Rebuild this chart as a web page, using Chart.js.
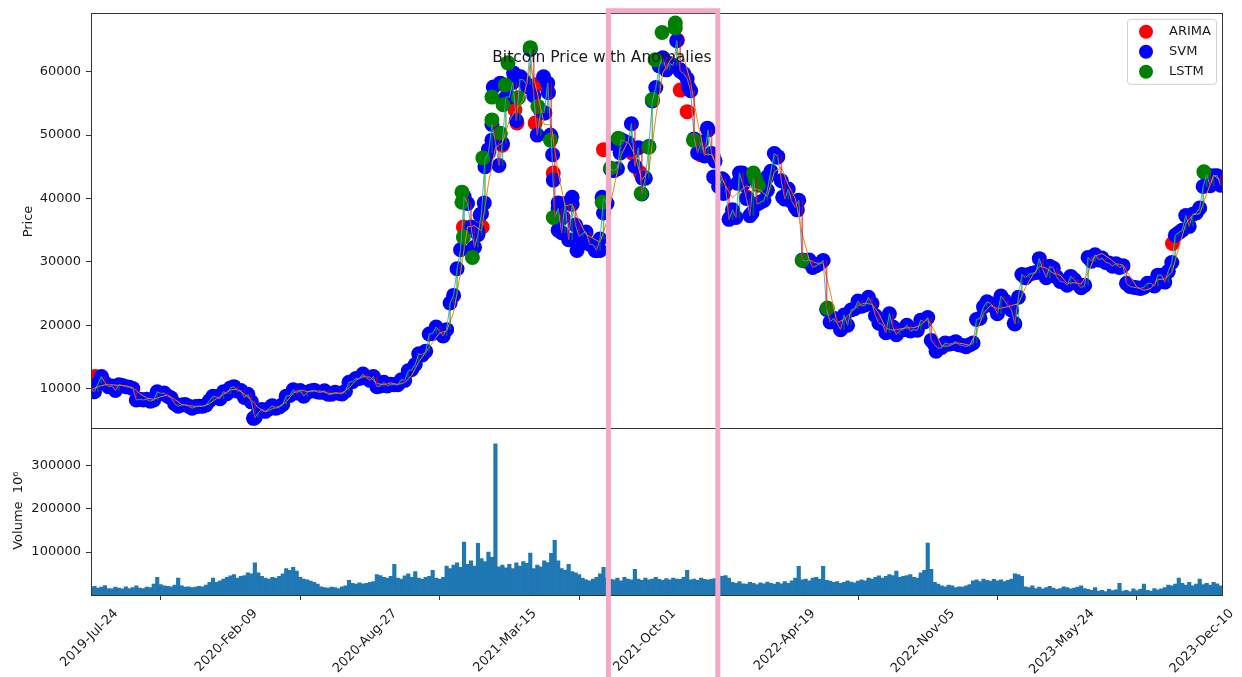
<!DOCTYPE html>
<html>
<head>
<meta charset="utf-8">
<script src="https://cdn.jsdelivr.net/npm/chart.js@4.4.1/dist/chart.umd.min.js"></script>
<style>
  html, body { margin: 0; padding: 0; background: #ffffff; }
  #wrap { position: relative; width: 1242px; height: 677px; }
  canvas { display: block; }
</style>
</head>
<body>
<div id="wrap"><canvas id="chart" width="1242" height="677"></canvas></div>
<script>
// ---- axis ticks (day offsets from 2019-07-24) ----
const xTickDays = [0, 200, 400, 600, 800, 1000, 1200, 1400, 1600];
const xTickLabels = ['2019-Jul-24', '2020-Feb-09', '2020-Aug-27', '2021-Mar-15', '2021-Oct-01',
                     '2022-Apr-19', '2022-Nov-05', '2023-May-24', '2023-Dec-10'];
const priceTicks = [10000, 20000, 30000, 40000, 50000, 60000];
const volumeTicks = [100000, 200000, 300000];

// ---- closing price on days 0, 10, 20, ... ----
const closeStepDays = 10;
const closePrice = [
  9800,10800,10900,10400,10600,10300,10000,8300,8300,8200,
  9200,8800,7600,7400,7200,7150,7200,8100,8650,9500,
  10100,9600,8600,7900,6200,6400,7300,7100,8800,9800,
  9700,9400,9750,9400,9100,9400,9150,11000,11600,12300,
  11300,10300,11000,10700,10600,11300,13000,15500,15900,18700,
  19000,19300,24700,31900,39200,32300,37600,47200,48900,48700,
  56000,52300,58700,63500,50000,53500,49700,38400,39200,39100,
  34000,34700,32700,33600,39200,44400,49300,48800,45100,40700,
  48200,57500,62200,61300,64900,59700,57000,47200,46700,47100,
  41900,42000,38200,44000,40000,43200,39400,41300,47100,42800,
  41500,38600,30300,30300,29400,30200,20500,20300,21600,22400,
  23800,23200,23400,20300,18800,19700,19200,20000,19300,20800,
  21200,16900,16500,17000,17400,16800,16900,20900,22900,23400,
  21800,23900,22400,24400,27500,28200,30500,27500,29000,26900,
  26300,27200,25900,30700,31100,30600,29800,29700,29400,26100,
  25900,26000,26600,27900,26800,29900,34600,37300,37500,38500,
  43800,43600,42100
];
// ---- closing price on days 5, 15, 25, ... ----
const closePriceMid = [
  9500,11900,10300,9700,10500,10200,8200,8200,8000,9500,
  9300,8500,7200,7500,6900,7200,7400,8800,8400,9200,
  10300,9700,9100,5400,6700,6800,6900,7500,8900,9300,
  8800,9600,9450,9650,9100,9250,9600,11100,11600,11700,
  11900,10400,10400,10600,11400,12800,13800,15300,18600,19700,
  18300,23500,28900,40300,35500,34300,46200,51700,45200,56000,
  58300,58800,58000,56200,53800,58200,37000,34600,33500,35800,
  34500,32800,31800,40000,44600,44700,49000,51800,48000,43200,
  55400,60900,60300,61000,60100,58900,49400,48900,50800,45900,
  43100,36700,37000,42200,37300,39100,39700,44300,46600,39900,
  39500,39700,30100,29100,29700,22500,21100,19300,20000,22600,
  23000,24400,21500,20100,21800,18500,19300,19100,19200,20500,
  17600,16300,17200,17100,16900,16600,17200,21100,23700,22900,
  24600,23100,20200,28000,28000,28300,28800,29300,27600,26800,
  27700,26500,26300,30100,30300,29900,29300,29100,26600,26000,
  25800,26600,26200,27900,28500,34200,35000,35600,37700,41900,
  42000,43600
];

// ---- moving-average line on days 0, 10, 20, ... ----
const avgPrice = [
  9800,10300,10600,10600,10500,10450,10150,9200,8500,8300,
  8700,9000,8300,7500,7300,7200,7200,7600,8400,9100,
  9800,9900,9100,8200,7000,6300,6800,7200,7900,9300,
  9750,9550,9600,9600,9250,9250,9300,10100,11300,11900,
  11800,10800,10600,10900,10650,10950,12100,14200,15700,17300,
  18800,19100,22000,28300,35500,35700,34900,42400,48000,48800,
  52300,54100,55500,61100,56700,51700,51600,44000,38800,39100,
  36500,34300,33700,33100,36400,41800,46800,49000,46900,42900,
  44400,52800,59800,61700,63100,62300,58300,52100,47000,46900,
  44500,42000,40100,41100,42000,41600,41300,40300,44200,44900,
  42100,40000,34400,30300,29800,29800,25300,20400,20900,22000,
  23100,23500,23300,21800,19500,19200,19400,19600,19600,20000,
  21000,19000,16700,16700,17200,17100,16800,18900,21900,23100,
  22600,22800,23100,23400,25900,27800,29300,29000,28200,27900,
  26600,26700,26500,28300,30900,31300,30600,29700,29500,27700,
  26000,25500,25800,27200,27300,28300,32200,36000,37400,37600,
  40700,43700,42800
];

// ---- traded volume (thousands of 10^6), one value every 5 days ----
const volumeStepDays = 5;
const volumeK = [
  18,21,17,19,23,16,15,19,17,15,20,16,18,22,17,16,19,18,26,
  42,25,22,21,20,24,40,22,19,20,18,19,21,20,24,30,40,
  30,34,38,42,45,48,40,44,46,52,50,
  75,52,44,40,38,42,40,44,50,
  62,58,65,56,
  42,38,36,33,30,26,
  20,18,17,19,18,16,20,22,
  35,28,26,29,27,28,30,32,48,
  46,42,40,44,72,
  40,38,45,50,42,55,40,38,42,44,58,
  40,38,42,68,
  62,70,75,65,123,72,80,68,120,
  85,78,100,88,350,
  66,70,64,72,62,75,68,78,74,98,
  62,70,66,80,76,97,127,80,
  62,58,72,55,52,48,
  40,36,34,38,42,50,65,40,
  38,36,40,34,42,38,36,60,38,35,40,36,38,42,37,35,39,36,40,38,37,42,58,36,38,35,40,37,36,38,39,
  45,44,46,40,
  30,28,32,27,26,30,28,25,29,27,31,28,26,30,27,32,28,34,40,67,36,38,34,40,42,38,67,35,33,30,32,28,30,34,31,29,33,
  36,34,40,38,42,45,40,44,48,46,56,42,44,46,48,42,40,
  52,58,121,60,
  30,26,22,20,24,22,18,20,19,22,25,
  34,36,32,38,35,33,37,34,36,32,35,38,
  50,48,44,
  20,18,22,16,19,15,18,21,17,14,16,20,18,15,17,19,22,
  16,14,12,18,10,12,9,14,11,13,28,10,12,9,15,11,14,26,12,10,16,13,15,18,
  24,22,26,40,28,24,30,22,26,38,25,28,24,30,27,22
];

// ---- flagged anomalies: [day, price] ----
const arimaPoints = [
  [6,11900],[534,35500],[561,35500],[590,48400],[608,54000],[611,51900],[637,51900],
  [640,58000],[651,53500],[663,44000],[735,47700],[759,47300],[776,47200],[788,44000],
  [819,62000],[841,65000],[845,57100],[855,53700],[874,46900],[941,40200],[1551,32900]
];
const svmExtraPoints = [
  [233,5300],[548,32100],[554,35000],[558,37400],[564,39300],[565,45000],[570,47700],
  [575,49200],[577,57600],[587,58200],[606,59800],[616,59200],[626,57600],[649,59200],
  [656,56700],[659,50000],[662,46900],[663,42900],[670,39300],[670,35000],[677,37000],
  [690,40200],[697,31800],[706,33000],[723,31800],[730,31800],[733,40200],[735,37700],
  [749,48700],[759,47200],[773,47700],[791,43200],[827,60600],[845,60300],[857,57600],
  [884,51100],[893,46500],[893,43400],[907,42900],[907,40800],[917,37000],[927,42400],
  [934,44000],[948,37700],[970,43400],[984,46500],[992,40200],[1013,38200],[1212,15900],
  [1324,20300]
];
const lstmPoints = [
  [532,41000],[532,39400],[534,33900],[547,30700],[562,46400],[575,52400],[575,56000],
  [587,50300],[591,54800],[594,57900],[598,61400],[613,55900],[630,63800],[641,54500],
  [659,49200],[663,37000],[733,39400],[745,44800],[756,49500],[789,40800],[800,48100],
  [805,55600],[809,61900],[819,66200],[838,67700],[838,66900],[864,49200],[950,44000],
  [953,43000],[957,42100],[1020,30200],[1056,22700],[1596,44200]
];
const legendOrder = ['ARIMA', 'SVM', 'LSTM'];

// highlighted window, in days
const highlightDays = [742, 899];

// ---- build datasets ----
const closeXY = [];
closePrice.forEach((p, i) => {
  closeXY.push({ x: i * closeStepDays, y: p });
  if (i < closePriceMid.length) closeXY.push({ x: i * closeStepDays + closeStepDays / 2, y: closePriceMid[i] });
});
const avgXY = avgPrice.map((p, i) => ({ x: i * closeStepDays, y: p }));
const candleXY = closeXY.slice(1).map((pt, i) => ({ x: pt.x, y: [closeXY[i].y, pt.y] }));
const candleColors = closeXY.slice(1).map((pt, i) => pt.y >= closeXY[i].y ? 'rgba(0,150,0,0.6)' : 'rgba(225,0,0,0.6)');
const volumeXY = volumeK.map((v, i) => ({ x: i * volumeStepDays, y: v * 1000 }));
const toXY = arr => arr.map(([d, p]) => ({ x: d, y: p }));
const svmXY = closeXY.concat(toXY(svmExtraPoints));

const FONT = 'DejaVu Sans';
const TXT = '#1a1a1a';
const SPINE = '#333333';

const dotOpts = { pointRadius: 7.5, pointHoverRadius: 7.5, pointBorderWidth: 0, showLine: false, clip: 0, yAxisID: 'y' };

const framePlugin = {
  id: 'frame',
  afterDraw(chart) {
    const { ctx, scales } = chart;
    const xs = scales.x, yp = scales.y, yv = scales.yv;
    ctx.save();
    // panel spines
    ctx.strokeStyle = SPINE;
    ctx.lineWidth = 1;
    ctx.strokeRect(Math.round(xs.left) + 0.5, Math.round(yp.top) + 0.5, Math.round(xs.right - xs.left), Math.round(yp.bottom - yp.top));
    ctx.strokeRect(Math.round(xs.left) + 0.5, Math.round(yv.top) + 0.5, Math.round(xs.right - xs.left), Math.round(yv.bottom - yv.top));

    // axis titles
    ctx.fillStyle = TXT;
    ctx.font = `13px "${FONT}"`;
    ctx.textAlign = 'center';
    ctx.textBaseline = 'middle';
    ctx.save();
    ctx.translate(29, (yp.top + yp.bottom) / 2 + 1);
    ctx.rotate(-Math.PI / 2);
    ctx.fillText('Price', 0, 0);
    ctx.restore();
    ctx.save();
    ctx.translate(19, (yv.top + yv.bottom) / 2 - 1);
    ctx.rotate(-Math.PI / 2);
    ctx.fillText('Volume  10\u2076', 0, 0);
    ctx.restore();

    // chart title
    ctx.font = `15.5px "${FONT}"`;
    ctx.textAlign = 'center';
    ctx.fillText('Bitcoin Price with Anomalies', xs.left + (xs.right - xs.left) * 0.4517, yp.top + 45);

    // legend
    const lx = xs.right - 95, ly = yp.top + 6, lw = 89, lh = 65;
    ctx.fillStyle = 'rgba(255,255,255,0.8)';
    ctx.strokeStyle = '#d0d0d0';
    ctx.lineWidth = 1;
    ctx.beginPath();
    ctx.roundRect(lx + 0.5, ly + 0.5, lw, lh, 3);
    ctx.fill();
    ctx.stroke();
    ctx.font = `13px "${FONT}"`;
    ctx.textAlign = 'left';
    legendOrder.forEach((name, i) => {
      const d = chart.data.datasets.find(ds => ds.label === name);
      const cy = ly + 13 + i * 20;
      ctx.fillStyle = d.backgroundColor;
      ctx.beginPath();
      ctx.arc(lx + 19, cy, 7, 0, Math.PI * 2);
      ctx.fill();
      ctx.fillStyle = TXT;
      ctx.fillText(d.label, lx + 42, cy);
    });

    // highlighted time window
    const x0 = xs.getPixelForValue(highlightDays[0]);
    const x1 = xs.getPixelForValue(highlightDays[1]);
    ctx.strokeStyle = '#f5a8c5';
    ctx.lineWidth = 5;
    ctx.beginPath();
    ctx.moveTo(x0, chart.height + 10);
    ctx.lineTo(x0, yp.top - 2);
    ctx.lineTo(x1, yp.top - 2);
    ctx.lineTo(x1, chart.height + 10);
    ctx.stroke();
    ctx.restore();
  }
};

new Chart(document.getElementById('chart'), {
  type: 'scatter',
  data: {
    datasets: [
      { type: 'bar', label: 'candles', data: candleXY, backgroundColor: candleColors, barThickness: 1, grouped: false, yAxisID: 'y', order: 0, clip: 0 },
      { type: 'line', label: 'average', data: avgXY, borderColor: '#ff7f0e', borderWidth: 1, pointRadius: 0, fill: false, yAxisID: 'y', order: 1, clip: 0 },
      { type: 'line', label: 'close', data: closeXY, borderColor: 'rgba(90,160,215,0.95)', borderWidth: 1, pointRadius: 0, fill: false, yAxisID: 'y', order: 2, clip: 0 },
      Object.assign({ label: 'LSTM', data: toXY(lstmPoints), backgroundColor: '#008000', order: 3 }, dotOpts),
      Object.assign({ label: 'SVM', data: svmXY, backgroundColor: '#0000ff', order: 4 }, dotOpts),
      Object.assign({ label: 'ARIMA', data: toXY(arimaPoints), backgroundColor: '#ff0000', order: 5 }, dotOpts),
      { type: 'bar', label: 'Volume', data: volumeXY, backgroundColor: '#1f77b4', barPercentage: 1, categoryPercentage: 1, grouped: false, yAxisID: 'yv', order: 6, clip: 0 }
    ]
  },
  options: {
    responsive: false,
    devicePixelRatio: 1,
    animation: false,
    events: [],
    layout: { padding: { top: 12, right: 20, bottom: 0, left: 0 } },
    plugins: { legend: { display: false }, title: { display: false }, tooltip: { enabled: false } },
    scales: {
      x: {
        type: 'linear', position: 'bottom', min: 0, max: 1622, offset: false,
        afterBuildTicks: s => { s.ticks = xTickDays.map(v => ({ value: v })); },
        afterFit: s => { s.height = 82; },
        ticks: {
          autoSkip: false, minRotation: 45, maxRotation: 45, labelOffset: 25, padding: 6,
          color: TXT, font: { family: FONT, size: 13 },
          callback: v => xTickLabels[xTickDays.indexOf(v)]
        },
        grid: { display: true, drawOnChartArea: false, drawTicks: true, tickLength: 5, color: SPINE },
        border: { display: false }
      },
      yv: {
        type: 'linear', position: 'left', stack: 'panels', stackWeight: 167, weight: 0,
        min: 1000, max: 386000, offset: false, beginAtZero: false,
        afterBuildTicks: s => { s.ticks = volumeTicks.map(v => ({ value: v })); },
        afterFit: s => { s.width = 91; },
        ticks: { color: TXT, font: { family: FONT, size: 13 }, padding: 5, callback: v => String(v) },
        grid: { display: true, drawOnChartArea: false, drawTicks: true, tickLength: 5, color: SPINE },
        border: { display: false }
      },
      y: {
        type: 'linear', position: 'left', stack: 'panels', stackWeight: 416, weight: 1,
        min: 3740, max: 69300, offset: false, beginAtZero: false,
        afterBuildTicks: s => { s.ticks = priceTicks.map(v => ({ value: v })); },
        afterFit: s => { s.width = 91; },
        ticks: { color: TXT, font: { family: FONT, size: 13 }, padding: 5, callback: v => String(v) },
        grid: { display: true, drawOnChartArea: false, drawTicks: true, tickLength: 5, color: SPINE },
        border: { display: false }
      }
    }
  },
  plugins: [framePlugin]
});
</script>
</body>
</html>
